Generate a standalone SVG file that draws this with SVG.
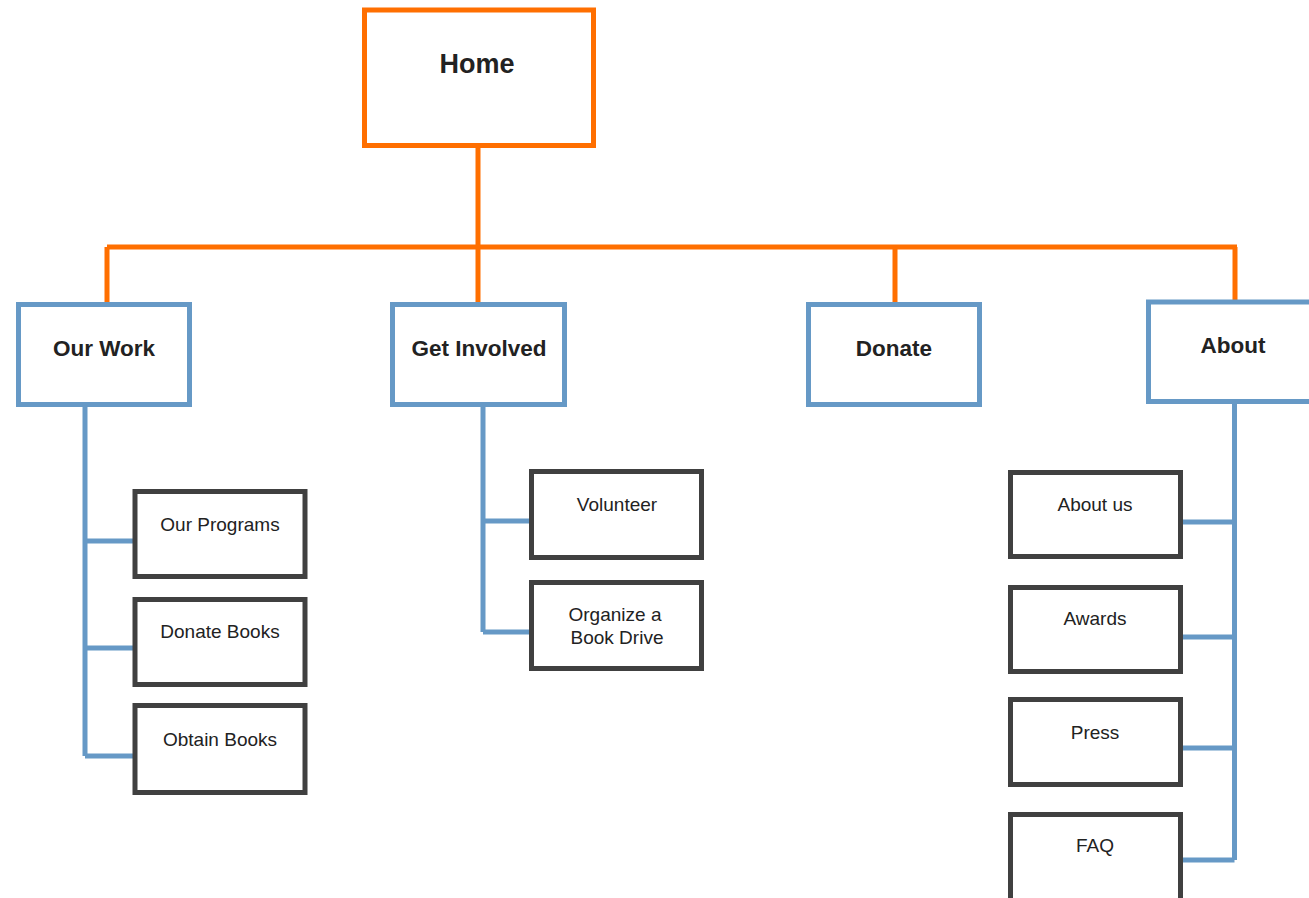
<svg xmlns="http://www.w3.org/2000/svg" width="1309" height="898" viewBox="0 0 1309 898">
<style>
.bg{fill:#ffffff}
.home{fill:#ffffff;stroke:#ff6f00;stroke-width:5}
.l1{fill:#ffffff;stroke:#6699c6;stroke-width:5}
.l2{fill:#ffffff;stroke:#404040;stroke-width:5}
.oc{fill:none;stroke:#ff6f00;stroke-width:5}
.bc{fill:none;stroke:#6699c6;stroke-width:5}
text{font-family:"Liberation Sans",Arial,sans-serif;fill:#222222;text-anchor:middle}
.t0{font-size:27px;font-weight:bold}
.t1{font-size:22.5px;font-weight:bold}
.t2{font-size:19px}
</style>
<rect class="bg" x="0" y="0" width="1309" height="898"/>
<g id="connectors">
<path class="oc" d="M478 145V247M107 247H1237M107 247V302M478 247V302M895 247V302M1235 247V300"/>
<path class="bc" d="M85 405V756M85 541H135M85 648H135M85 756H135"/>
<path class="bc" d="M483 405V632M483 521H531M483 632H531"/>
<path class="bc" d="M1234.5 402V860M1234.5 522H1181M1234.5 637H1181M1234.5 748H1181M1234.5 860H1181"/>
</g>
<g id="home"><rect class="home" x="364.5" y="10" width="229" height="135.5"/><text class="t0" x="477" y="73">Home</text></g>
<g id="our-work"><rect class="l1" x="18.5" y="304.5" width="171" height="100"/><text class="t1" x="104" y="356">Our Work</text></g>
<g id="get-involved"><rect class="l1" x="392.5" y="304.5" width="172" height="100"/><text class="t1" x="479" y="356">Get Involved</text></g>
<g id="donate"><rect class="l1" x="808.5" y="304.5" width="171" height="100"/><text class="t1" x="894" y="356">Donate</text></g>
<g id="about"><rect class="l1" x="1148.5" y="302" width="171" height="99.5"/><text class="t1" x="1233" y="353">About</text></g>
<g id="our-programs"><rect class="l2" x="135" y="491.5" width="170" height="85"/><text class="t2" x="220" y="531">Our Programs</text></g>
<g id="donate-books"><rect class="l2" x="135" y="599.5" width="170" height="85"/><text class="t2" x="220" y="638">Donate Books</text></g>
<g id="obtain-books"><rect class="l2" x="135" y="705.5" width="170" height="87"/><text class="t2" x="220" y="746">Obtain Books</text></g>
<g id="volunteer"><rect class="l2" x="531.5" y="471.5" width="170" height="86"/><text class="t2" x="617" y="511">Volunteer</text></g>
<g id="organize"><rect class="l2" x="531.5" y="582.5" width="170" height="86"/><text class="t2" x="615" y="621">Organize a</text><text class="t2" x="617" y="644">Book Drive</text></g>
<g id="about-us"><rect class="l2" x="1010.5" y="472.5" width="170" height="84"/><text class="t2" x="1095" y="511">About us</text></g>
<g id="awards"><rect class="l2" x="1010.5" y="587.5" width="170" height="84"/><text class="t2" x="1095" y="625">Awards</text></g>
<g id="press"><rect class="l2" x="1010.5" y="699.5" width="170" height="85"/><text class="t2" x="1095" y="739">Press</text></g>
<g id="faq"><rect class="l2" x="1010.5" y="814.5" width="170" height="100"/><text class="t2" x="1095" y="852">FAQ</text></g>
</svg>
